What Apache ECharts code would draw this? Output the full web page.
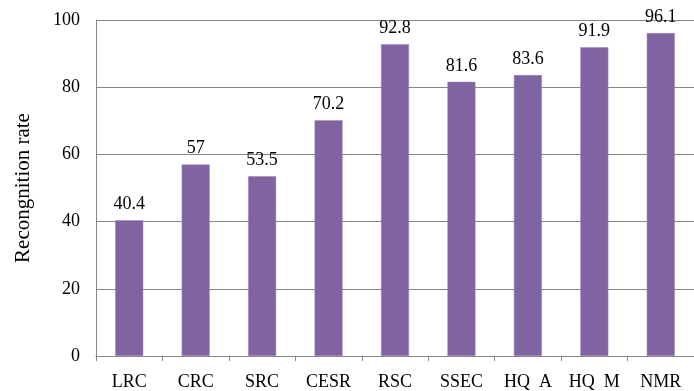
<!DOCTYPE html>
<html>
<head>
<meta charset="utf-8">
<script src="https://cdn.jsdelivr.net/npm/echarts@6/dist/echarts.min.js"></script>
<style>
	html, body { margin: 0; padding: 0; background: #fff; }
	#chart { width: 694px; height: 391px; }
</style>
</head>
<body>
<div id="chart"></div>
<script>
let categories = ["LRC", "CRC", "SRC", "CESR", "RSC", "SSEC", "HQ  A", "HQ  M", "NMR"];
let rates = [40.4, 57, 53.5, 70.2, 92.8, 81.6, 83.6, 91.9, 96.1];
let yTicks = [0, 20, 40, 60, 80, 100];

function recognitionChart() {
	let dom = document.getElementById("chart");
	let myChart = echarts.init(dom, null, { renderer: "canvas" });
	let font = "'Liberation Serif', 'Times New Roman', serif";

	let option = {
		animation: false,
		grid: {
			left: 96,
			top: 20,
			width: 603, // 오른쪽은 그림 밖으로 잘림
			height: 338,
			containLabel: false,
		},
		xAxis: {
			type: "category",
			data: categories,
			boundaryGap: true,
			axisLine: { lineStyle: { color: "#868686", width: 1 } },
			axisTick: { show: true, length: 5, lineStyle: { color: "#868686" } },
			axisLabel: {
				color: "#000",
				fontFamily: font,
				fontSize: 18,
				margin: 17,
				interval: 0,
			},
		},
		yAxis: {
			type: "value",
			min: yTicks[0],
			max: yTicks[yTicks.length - 1],
			interval: 20,
			name: "Recongnition rate",
			nameLocation: "middle",
			nameGap: 62,
			nameTextStyle: { color: "#000", fontFamily: font, fontSize: 21 },
			axisLine: { show: true, lineStyle: { color: "#868686" } },
			axisTick: { show: false },
			splitLine: { lineStyle: { color: "#868686", width: 1 } },
			axisLabel: {
				color: "#000",
				fontFamily: font,
				fontSize: 18,
				margin: 16,
			},
		},
		series: [
			{
				type: "bar",
				data: rates,
				barWidth: 28,
				itemStyle: { color: "#8064A2", borderColor: "#9a84b8", borderWidth: 0.5 },
				label: {
					show: true,
					position: "top",
					distance: 7,
					color: "#000",
					fontFamily: font,
					fontSize: 18,
				},
			},
		],
	};

	myChart.setOption(option);
	window.addEventListener("resize", myChart.resize);
}

(function init() {
	recognitionChart();
})();
</script>
</body>
</html>
